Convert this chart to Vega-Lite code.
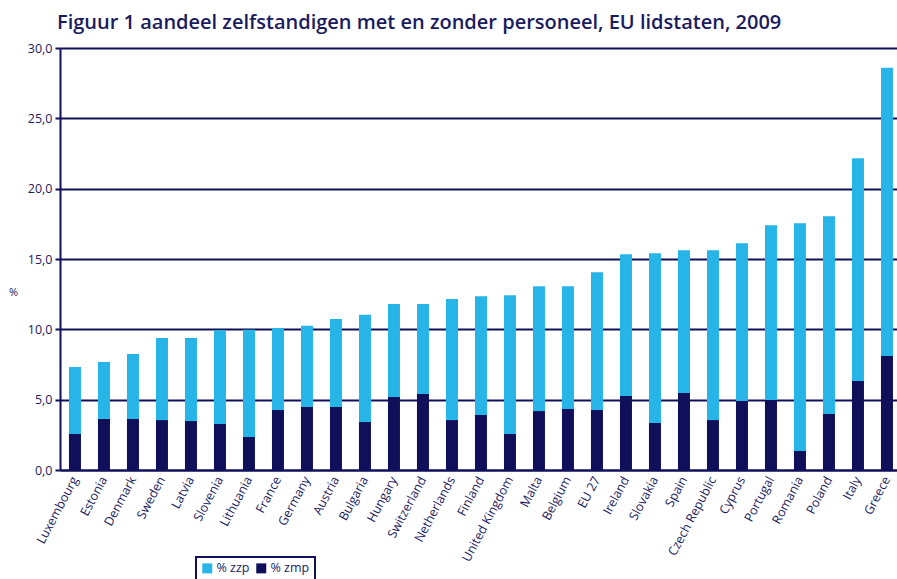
{
  "$schema": "https://vega.github.io/schema/vega-lite/v6.json",
  "autosize": "none",
  "width": 837,
  "height": 422,
  "padding": {"left": 60, "top": 48, "right": 0, "bottom": 109},
  "title": {
    "text": "Figuur 1 aandeel zelfstandigen met en zonder personeel, EU lidstaten, 2009",
    "anchor": "start",
    "frame": "group",
    "font": "Open Sans",
    "fontSize": 20,
    "fontWeight": 600,
    "color": "#1b1b5f",
    "offset": 9,
    "dx": -3
  },
  "data": {
    "values": [
      {"country": "Luxembourg", "series": "% zmp", "value": 2.56},
      {"country": "Luxembourg", "series": "% zzp", "value": 4.76},
      {"country": "Estonia", "series": "% zmp", "value": 3.63},
      {"country": "Estonia", "series": "% zzp", "value": 4.05},
      {"country": "Denmark", "series": "% zmp", "value": 3.63},
      {"country": "Denmark", "series": "% zzp", "value": 4.62},
      {"country": "Sweden", "series": "% zmp", "value": 3.55},
      {"country": "Sweden", "series": "% zzp", "value": 5.83},
      {"country": "Latvia", "series": "% zmp", "value": 3.48},
      {"country": "Latvia", "series": "% zzp", "value": 5.90},
      {"country": "Slovenia", "series": "% zmp", "value": 3.27},
      {"country": "Slovenia", "series": "% zzp", "value": 6.66},
      {"country": "Lithuania", "series": "% zmp", "value": 2.35},
      {"country": "Lithuania", "series": "% zzp", "value": 7.62},
      {"country": "France", "series": "% zmp", "value": 4.27},
      {"country": "France", "series": "% zzp", "value": 5.82},
      {"country": "Germany", "series": "% zmp", "value": 4.48},
      {"country": "Germany", "series": "% zzp", "value": 5.78},
      {"country": "Austria", "series": "% zmp", "value": 4.48},
      {"country": "Austria", "series": "% zzp", "value": 6.25},
      {"country": "Bulgaria", "series": "% zmp", "value": 3.41},
      {"country": "Bulgaria", "series": "% zzp", "value": 7.63},
      {"country": "Hungary", "series": "% zmp", "value": 5.19},
      {"country": "Hungary", "series": "% zzp", "value": 6.61},
      {"country": "Switzerland", "series": "% zmp", "value": 5.40},
      {"country": "Switzerland", "series": "% zzp", "value": 6.40},
      {"country": "Netherlands", "series": "% zmp", "value": 3.55},
      {"country": "Netherlands", "series": "% zzp", "value": 8.60},
      {"country": "Finland", "series": "% zmp", "value": 3.91},
      {"country": "Finland", "series": "% zzp", "value": 8.44},
      {"country": "United Kingdom", "series": "% zmp", "value": 2.56},
      {"country": "United Kingdom", "series": "% zzp", "value": 9.86},
      {"country": "Malta", "series": "% zmp", "value": 4.19},
      {"country": "Malta", "series": "% zzp", "value": 8.87},
      {"country": "Belgium", "series": "% zmp", "value": 4.34},
      {"country": "Belgium", "series": "% zzp", "value": 8.72},
      {"country": "EU 27", "series": "% zmp", "value": 4.27},
      {"country": "EU 27", "series": "% zzp", "value": 9.79},
      {"country": "Ireland", "series": "% zmp", "value": 5.26},
      {"country": "Ireland", "series": "% zzp", "value": 10.08},
      {"country": "Slovakia", "series": "% zmp", "value": 3.34},
      {"country": "Slovakia", "series": "% zzp", "value": 12.07},
      {"country": "Spain", "series": "% zmp", "value": 5.47},
      {"country": "Spain", "series": "% zzp", "value": 10.15},
      {"country": "Czech Republic", "series": "% zmp", "value": 3.55},
      {"country": "Czech Republic", "series": "% zzp", "value": 12.07},
      {"country": "Cyprus", "series": "% zmp", "value": 4.91},
      {"country": "Cyprus", "series": "% zzp", "value": 11.21},
      {"country": "Portugal", "series": "% zmp", "value": 4.98},
      {"country": "Portugal", "series": "% zzp", "value": 12.42},
      {"country": "Romania", "series": "% zmp", "value": 1.35},
      {"country": "Romania", "series": "% zzp", "value": 16.19},
      {"country": "Poland", "series": "% zmp", "value": 3.98},
      {"country": "Poland", "series": "% zzp", "value": 14.06},
      {"country": "Italy", "series": "% zmp", "value": 6.33},
      {"country": "Italy", "series": "% zzp", "value": 15.84},
      {"country": "Greece", "series": "% zmp", "value": 8.10},
      {"country": "Greece", "series": "% zzp", "value": 20.50}
    ]
  },
  "mark": {"type": "bar"},
  "encoding": {
    "x": {
      "field": "country",
      "type": "nominal",
      "sort": null,
      "scale": {"paddingInner": 0.586, "paddingOuter": 0.224, "align": 0.69},
      "axis": {
        "title": null,
        "labelAngle": -62,
        "labelAlign": "right",
        "labelBaseline": "middle",
        "labelFont": "Open Sans",
        "labelFontSize": 12.5,
        "labelColor": "#1b1b5f",
        "labelPadding": 7,
        "ticks": false,
        "domainColor": "#10105a",
        "domainWidth": 2,
        "grid": false
      }
    },
    "y": {
      "field": "value",
      "type": "quantitative",
      "stack": "zero",
      "scale": {"domain": [0, 30], "nice": false},
      "axis": {
        "title": "%",
        "titleAngle": 0,
        "titleX": -47,
        "titleY": 244,
        "titleAlign": "center",
        "titleBaseline": "middle",
        "titleFont": "Open Sans",
        "titleFontSize": 11,
        "titleFontWeight": "normal",
        "titleColor": "#1b1b5f",
        "values": [0, 5, 10, 15, 20, 25, 30],
        "labelExpr": "replace(format(datum.value, '.1f'), '.', ',')",
        "labelFont": "Open Sans",
        "labelFontSize": 12.5,
        "labelColor": "#1b1b5f",
        "labelPadding": 3,
        "tickSize": 5,
        "tickWidth": 2,
        "tickColor": "#10105a",
        "domainColor": "#10105a",
        "domainWidth": 2,
        "grid": true,
        "gridColor": "#10105a",
        "gridWidth": 2
      }
    },
    "color": {
      "field": "series",
      "type": "nominal",
      "scale": {"domain": ["% zzp", "% zmp"], "range": ["#27b5e8", "#10105a"]},
      "legend": {
        "title": null,
        "orient": "none",
        "direction": "horizontal",
        "legendX": 136,
        "legendY": 509,
        "symbolType": "square",
        "symbolSize": 100,
        "symbolStrokeWidth": 0,
        "labelFont": "Open Sans",
        "labelFontSize": 12.5,
        "labelColor": "#1b1b5f",
        "labelOffset": 3,
        "columnPadding": 5,
        "padding": 5,
        "strokeColor": "#10105a"
      }
    },
    "order": {"field": "series", "sort": "ascending"}
  },
  "config": {
    "view": {"stroke": null},
    "legend": {"strokeWidth": 2}
  }
}
